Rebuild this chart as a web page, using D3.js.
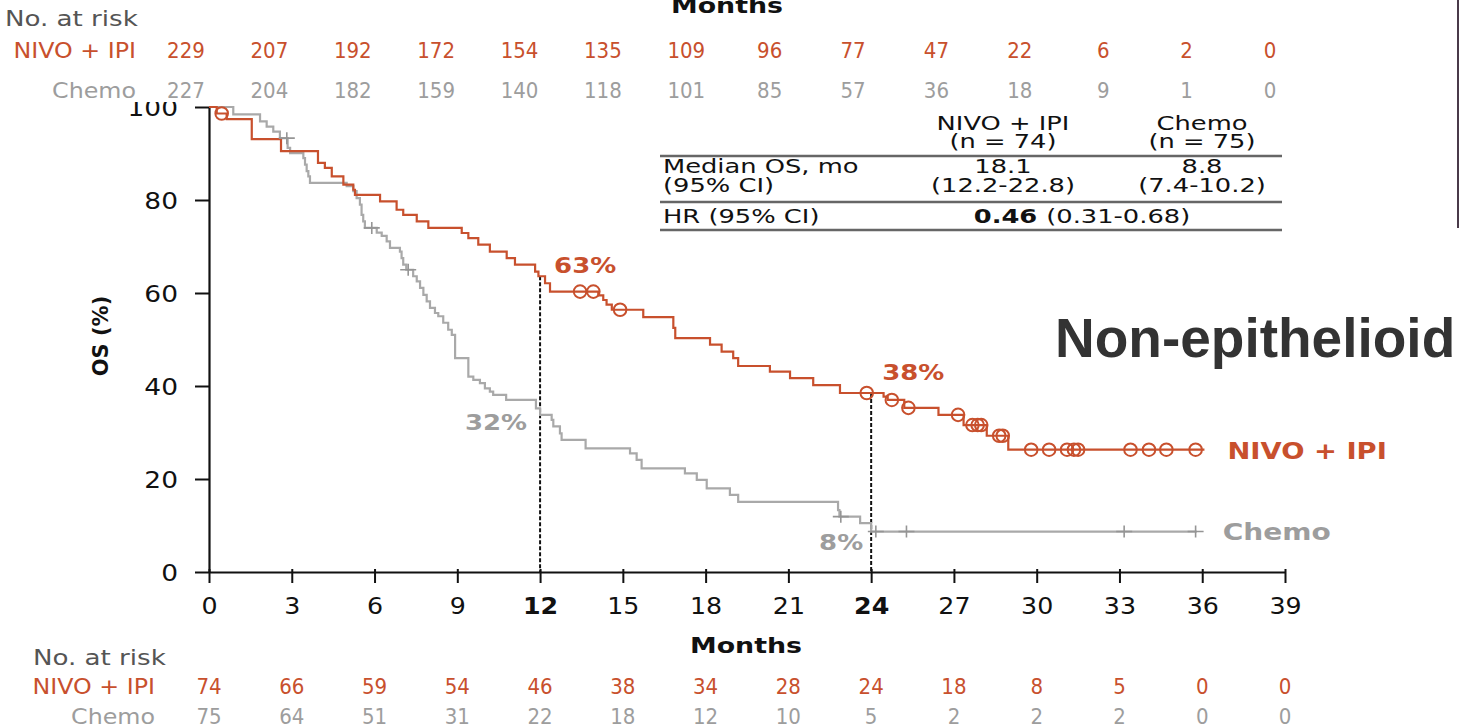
<!DOCTYPE html>
<html>
<head>
<meta charset="utf-8">
<script src="https://cdn.jsdelivr.net/npm/d3@7"></script>
<style>
  html, body { margin: 0; padding: 0; background: #fff; }
  svg { display: block; font-family: "DejaVu Sans", Verdana, sans-serif; }
</style>
</head>
<body>
<svg id="chart" width="1460" height="728"></svg>
<script>
// ---- values ----
const months = [0, 3, 6, 9, 12, 15, 18, 21, 24, 27, 30, 33, 36, 39];
const boldMonths = [12, 24];
const yTicks = [0, 20, 40, 60, 80, 100];

// Kaplan-Meier steps [month, OS %], non-epithelioid
const nivoSteps = [[0,100],[0.28,98.6],[0.64,97.4],[1.55,93.1],[2.61,90.5],[3.95,88.0],[4.2,86.9],[4.45,85.1],
  [4.87,83.3],[5.23,82.2],[5.29,81.1],[6.2,79.7],[6.8,77.9],[7.04,76.8],[7.53,75.4],[7.95,74.0],[9.16,72.9],
  [9.4,71.8],[9.76,70.4],[10.18,68.9],[10.79,67.5],[11.09,66.1],[11.82,64.6],[11.94,63.6],[12.18,62.1],
  [12.36,60.3],[14.11,59.5],[14.29,58.5],[14.41,57.5],[14.6,56.4],[15.74,54.8],[16.83,52.5],[16.9,50.3],
  [18.16,48.9],[18.58,47.4],[19.0,46.0],[19.18,44.3],[20.33,43.1],[21.06,41.7],[21.9,40.2],[22.87,38.5],
  [24.45,37.7],[24.6,37.0],[25.2,35.3],[26.44,33.8],[27.35,31.6],[28.19,29.3],[28.97,26.3]];
const nivoCensor = [0.46, 13.45, 13.93, 14.9, 23.84, 24.75, 25.35, 27.15, 27.67, 27.86, 27.99, 28.64, 28.77,
  29.8, 30.45, 31.1, 31.35, 31.5, 33.4, 34.07, 34.7, 35.76];
const nivoEnd = 36.08;

const chemoSteps = [[0,100],[0.88,98.4],[1.85,96.9],[2.09,95.8],[2.33,94.7],[2.57,93.3],[2.85,91.2],[2.94,90.1],
  [3.42,89.0],[3.48,87.6],[3.54,86.2],[3.6,85.1],[3.66,83.7],[4.99,83.0],[5.23,81.9],[5.35,80.4],[5.47,79.0],
  [5.53,76.8],[5.59,75.4],[5.65,74.0],[6.08,73.0],[6.26,72.3],[6.44,71.1],[6.56,69.7],[6.92,68.9],[6.98,67.5],
  [7.04,66.1],[7.15,65.0],[7.4,63.6],[7.53,62.5],[7.65,61.1],[7.77,59.6],[7.89,58.2],[8.01,56.8],[8.19,55.7],
  [8.31,55.0],[8.49,53.6],[8.67,52.1],[8.8,51.0],[8.92,46.0],[9.4,42.0],[9.58,41.3],[9.82,40.6],[10.0,39.5],
  [10.18,38.8],[10.3,38.1],[10.77,37.0],[11.85,35.2],[12.0,33.8],[12.42,32.7],[12.48,31.3],[12.72,29.8],
  [12.78,28.4],[13.65,26.6],[15.26,25.5],[15.5,24.1],[15.68,22.3],[17.25,21.2],[17.68,19.8],[18.04,18.0],
  [18.88,16.6],[19.18,15.1],[22.8,13.3],[22.85,11.9],[23.6,10.5],[24.0,8.7]];
const chemoCensor = [2.82, 5.9, 7.22, 22.9, 24.17, 25.28, 33.17, 35.76];
const chemoEnd = 35.8;

// numbers at risk, non-epithelioid
const riskNivo = [74, 66, 59, 54, 46, 38, 34, 28, 24, 18, 8, 5, 0, 0];
const riskChemo = [75, 64, 51, 31, 22, 18, 12, 10, 5, 2, 2, 2, 0, 0];
// numbers at risk of the panel cropped off above
const topRiskNivo = [229, 207, 192, 172, 154, 135, 109, 96, 77, 47, 22, 6, 2, 0];
const topRiskChemo = [227, 204, 182, 159, 140, 118, 101, 85, 57, 36, 18, 9, 1, 0];

const landmarkMonths = [12, 24];
const nivoLandmarkText = ["63%", "38%"];
const chemoLandmarkText = ["32%", "8%"];

const armNames = ["NIVO + IPI", "Chemo"];
const armN = ["(n = 74)", "(n = 75)"];
const medianRows = [["Median OS, mo", "18.1", "8.8"], ["(95% CI)", "(12.2-22.8)", "(7.4-10.2)"]];
const hrRow = ["HR (95% CI)", "0.46", "(0.31-0.68)"];
const panelTitle = "Non-epithelioid";

// ---- styles ----
const RED = "#c8502d", GREY = "#a9a9a9", GREYTXT = "#9d9d9d", DARK = "#111";

const svg = d3.select("#chart");
const x = d3.scaleLinear().domain([0, 39]).range([209, 1285]);
const y = d3.scaleLinear().domain([0, 100]).range([572, 107]);
const topX = d3.scaleLinear().domain([0, 39]).range([186, 1270]);

function survAt(steps, t) {
  let v = steps[0][1];
  for (const s of steps) if (s[0] <= t) v = s[1];
  return v;
}

function stretchText(parent, px, py, str, sx, anchor) {
  return parent.append("text")
    .attr("transform", `translate(${px},${py}) scale(${sx},1)`)
    .attr("text-anchor", anchor || "start")
    .text(str);
}

// axes
const xAxis = svg.append("g")
  .attr("transform", `translate(0,${y(0)})`)
  .call(d3.axisBottom(x).tickValues(months).tickSize(11).tickSizeOuter(0).tickPadding(15));
const yAxis = svg.append("g")
  .attr("transform", `translate(${x(0)},0)`)
  .call(d3.axisLeft(y).tickValues(yTicks).tickSize(14).tickSizeOuter(0));

[xAxis, yAxis].forEach(a => {
  a.select(".domain").attr("stroke", DARK).attr("stroke-width", 2.2);
  a.selectAll(".tick line").attr("stroke", DARK).attr("stroke-width", 2);
  a.selectAll("text").attr("fill", DARK).style("font-size", "23px")
    .style("font-family", "DejaVu Sans");
});
xAxis.selectAll(".tick line").attr("y1", -3);
xAxis.selectAll(".tick text")
  .attr("transform", "scale(1.1,1)")
  .style("font-weight", d => boldMonths.includes(d) ? "bold" : "normal");
yAxis.selectAll(".tick text")
  .attr("x", -31 / 1.15)
  .attr("dy", "0.36em")
  .attr("transform", "scale(1.15,1)");

// y label
svg.append("text")
  .attr("transform", `translate(108,336) rotate(-90)`)
  .attr("text-anchor", "middle")
  .style("font-size", "21px").style("font-weight", "bold").attr("fill", DARK)
  .text("OS (%)");

// x label
stretchText(svg, 746, 653, "Months", 1.22, "middle")
  .style("font-size", "22px").style("font-weight", "bold").attr("fill", DARK);

// landmark dashed lines
landmarkMonths.forEach(m => {
  svg.append("line")
    .attr("x1", x(m)).attr("x2", x(m))
    .attr("y1", y(survAt(nivoSteps, m))).attr("y2", y(0))
    .attr("stroke", DARK).attr("stroke-width", 2).attr("stroke-dasharray", "4,2");
});

// curves
const line = d3.line().x(d => x(d[0])).y(d => y(d[1])).curve(d3.curveStepAfter);
function drawCurve(steps, end, color) {
  const pts = steps.concat([[end, steps[steps.length - 1][1]]]);
  svg.append("path").datum(pts)
    .attr("fill", "none").attr("stroke", color).attr("stroke-width", 2.2)
    .attr("d", line);
}
drawCurve(chemoSteps, chemoEnd, GREY);
drawCurve(nivoSteps, nivoEnd, RED);

svg.selectAll(".cross").data(chemoCensor).join("path")
  .attr("class", "cross")
  .attr("transform", d => `translate(${x(d)},${y(survAt(chemoSteps, d))})`)
  .attr("d", "M-8,0H8M0,-6V6")
  .attr("stroke", "#959595").attr("stroke-width", 1.6).attr("fill", "none");

svg.selectAll(".ring").data(nivoCensor).join("circle")
  .attr("class", "ring")
  .attr("cx", d => x(d)).attr("cy", d => y(survAt(nivoSteps, d)))
  .attr("r", 6.3).attr("fill", "none").attr("stroke", RED).attr("stroke-width", 2);

// landmark labels
const lmOffsets = [{nx: 14, ny: -3, cx: -13, cy: 15}, {nx: 11, ny: -13, cx: -8, cy: 18}];
landmarkMonths.forEach((m, i) => {
  const o = lmOffsets[i];
  stretchText(svg, x(m) + o.nx, y(survAt(nivoSteps, m)) + o.ny, nivoLandmarkText[i], 1.18, "start")
    .style("font-size", "22px").style("font-weight", "bold").attr("fill", RED);
  stretchText(svg, x(m) + o.cx, y(survAt(chemoSteps, m)) + o.cy, chemoLandmarkText[i], 1.18, "end")
    .style("font-size", "22px").style("font-weight", "bold").attr("fill", GREYTXT);
});

// curve end labels
stretchText(svg, x(nivoEnd) + 23, y(survAt(nivoSteps, nivoEnd)) + 9, armNames[0], 1.19, "start")
  .style("font-size", "23px").style("font-weight", "bold").attr("fill", RED);
stretchText(svg, x(chemoEnd) + 26, y(survAt(chemoSteps, chemoEnd)) + 8, armNames[1], 1.22, "start")
  .style("font-size", "23px").style("font-weight", "bold").attr("fill", GREYTXT);

// summary table
const tbl = svg.append("g").style("font-size", "19.5px").attr("fill", DARK);
const colX = [663, 1003, 1202];
const TS = 1.32;
armNames.forEach((n, i) => {
  stretchText(tbl, colX[i + 1], 130, n, TS, "middle");
  stretchText(tbl, colX[i + 1], 148, armN[i], TS, "middle");
});
medianRows.forEach((row, r) => {
  row.forEach((cell, c) => {
    stretchText(tbl, colX[c], 173 + r * 19, cell, TS, c === 0 ? "start" : "middle");
  });
});
stretchText(tbl, colX[0], 223, hrRow[0], TS, "start");
const hrText = stretchText(tbl, 1082, 223, "", TS, "middle");
hrText.append("tspan").style("font-weight", "bold").text(hrRow[1] + " ");
hrText.append("tspan").text(hrRow[2]);
[156, 202, 230].forEach(ly => {
  tbl.append("line").attr("x1", 660).attr("x2", 1282).attr("y1", ly).attr("y2", ly)
    .attr("stroke", "#666").attr("stroke-width", 2.4);
});

// bottom risk table
const risk = svg.append("g").style("font-family", "DejaVu Sans Condensed, DejaVu Sans").style("font-size", "22px");
stretchText(risk, 33, 665, "No. at risk", 1.32, "start").attr("fill", "#555");
stretchText(risk, 155, 694, armNames[0], 1.2, "end").attr("fill", RED);
stretchText(risk, 155, 724, armNames[1], 1.2, "end").attr("fill", GREYTXT);
risk.selectAll(".rn").data(riskNivo).join("text").attr("class", "rn")
  .attr("x", (d, i) => x(months[i])).attr("y", 694).attr("text-anchor", "middle")
  .attr("fill", RED).text(d => d);
risk.selectAll(".rc").data(riskChemo).join("text").attr("class", "rc")
  .attr("x", (d, i) => x(months[i])).attr("y", 724).attr("text-anchor", "middle")
  .attr("fill", GREYTXT).text(d => d);

// cropped panel above: white strip with its risk table
svg.append("rect").attr("x", 0).attr("y", 0).attr("width", 1460).attr("height", 102).attr("fill", "#fff");
const topPanel = svg.append("g").style("font-family", "DejaVu Sans Condensed, DejaVu Sans").style("font-size", "22px");
stretchText(topPanel, 727, 13, "Months", 1.22, "middle")
  .style("font-family", "DejaVu Sans").style("font-size", "22px").style("font-weight", "bold").attr("fill", DARK);
stretchText(topPanel, 5, 26, "No. at risk", 1.32, "start").attr("fill", "#555");
stretchText(topPanel, 136, 58, armNames[0], 1.2, "end").attr("fill", RED);
stretchText(topPanel, 136, 98, armNames[1], 1.2, "end").attr("fill", GREYTXT);
topPanel.selectAll(".tn").data(topRiskNivo).join("text").attr("class", "tn")
  .attr("x", (d, i) => topX(months[i])).attr("y", 58).attr("text-anchor", "middle")
  .attr("fill", RED).text(d => d);
topPanel.selectAll(".tc").data(topRiskChemo).join("text").attr("class", "tc")
  .attr("x", (d, i) => topX(months[i])).attr("y", 98).attr("text-anchor", "middle")
  .attr("fill", GREYTXT).text(d => d);

// slide frame edge at the right
svg.append("line").attr("x1", 1458).attr("x2", 1458).attr("y1", 0).attr("y2", 228)
  .attr("stroke", "#4a3a4a").attr("stroke-width", 2);

// panel title
svg.append("text").attr("x", 1055).attr("y", 357)
  .style("font-family", "Liberation Sans, Arial, sans-serif")
  .style("font-size", "55px").style("font-weight", "bold").attr("fill", "#333")
  .text(panelTitle);
</script>
</body>
</html>
